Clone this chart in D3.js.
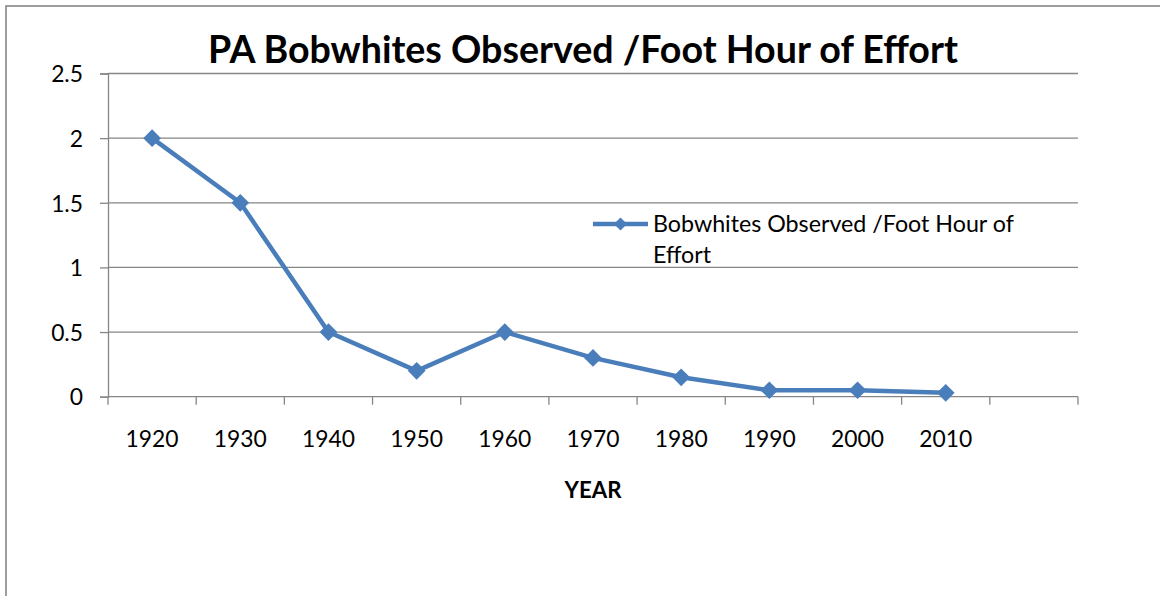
<!DOCTYPE html>
<html>
<head>
<meta charset="utf-8">
<script src="https://cdn.jsdelivr.net/npm/d3@7"></script>
<style>
  html, body { margin: 0; padding: 0; background: #fff; }
  svg { display: block; }
  text { font-family: Lato, "Open Sans", sans-serif; fill: #000; }
</style>
</head>
<body>
<svg id="chart" width="1160" height="596"></svg>
<script>
// Survey results: bobwhite quail seen per foot-hour of hunting effort, Pennsylvania
const years = ["1920", "1930", "1940", "1950", "1960", "1970", "1980", "1990", "2000", "2010", ""];
const observed = [2.0, 1.5, 0.5, 0.2, 0.5, 0.3, 0.15, 0.05, 0.05, 0.03];
const yTicks = [0, 0.5, 1, 1.5, 2, 2.5];
const titleText = "PA Bobwhites Observed /Foot Hour of Effort";
const xAxisTitle = "YEAR";
const legendLines = ["Bobwhites Observed /Foot Hour of", "Effort"];

const svg = d3.select("#chart");
const blue = "#4a7ebb";
const grey = "#868686";

// outer chart frame
svg.append("rect")
  .attr("x", 6).attr("y", 6).attr("width", 1170).attr("height", 610)
  .attr("fill", "none").attr("stroke", grey).attr("stroke-width", 1.6);

const plot = { left: 108, right: 1078, top: 73.5, bottom: 396.7 };

const x = d3.scaleBand().domain(years).range([plot.left, plot.right]).paddingInner(0).paddingOuter(0);
const y = d3.scaleLinear().domain([0, 2.5]).range([plot.bottom, plot.top]);

// fit helper: pick a font size so the text spans the wanted width
function fitText(sel, width) {
  const base = parseFloat(sel.attr("font-size"));
  const w = sel.node().getComputedTextLength();
  sel.attr("font-size", (base * width / w).toFixed(2));
}

// horizontal gridlines
svg.append("g")
  .selectAll("line")
  .data(yTicks.filter(d => d > 0))
  .join("line")
  .attr("x1", plot.left).attr("x2", plot.right)
  .attr("y1", d => y(d)).attr("y2", d => y(d))
  .attr("stroke", grey).attr("stroke-width", 1.3);

// y axis
const yAxis = svg.append("g")
  .attr("transform", `translate(${plot.left},0)`)
  .call(d3.axisLeft(y).tickValues(yTicks).tickSize(8).tickPadding(17)
    .tickFormat(d => d3.format("")(d)));
yAxis.select(".domain").attr("stroke", grey).attr("stroke-width", 1.3);
yAxis.selectAll(".tick line").attr("stroke", grey).attr("stroke-width", 1.3);
yAxis.selectAll(".tick text")
  .attr("font-size", 20).attr("font-family", "Lato").attr("fill", "#000")
  .attr("dy", "0.36em");

// x axis: ticks on category boundaries
const xAxis = svg.append("g")
  .attr("transform", `translate(0,${plot.bottom})`);
xAxis.append("line")
  .attr("x1", plot.left).attr("x2", plot.right)
  .attr("stroke", grey).attr("stroke-width", 1.3);
const boundaries = years.map(d => x(d)).concat([plot.right]);
xAxis.selectAll("line.tk")
  .data(boundaries)
  .join("line").attr("class", "tk")
  .attr("x1", d => d).attr("x2", d => d)
  .attr("y1", 0).attr("y2", 8)
  .attr("stroke", grey).attr("stroke-width", 1.3);
xAxis.selectAll("text")
  .data(years.filter(d => d))
  .join("text")
  .attr("x", d => x(d) + x.bandwidth() / 2)
  .attr("y", 50)
  .attr("text-anchor", "middle")
  .attr("font-size", 20)
  .text(d => d);

// size tick labels so a year spans ~53px
const probe = xAxis.select("text");
const w0 = probe.node().getComputedTextLength();
const tickSize = 20 * 53 / w0;
xAxis.selectAll("text").attr("font-size", tickSize);
yAxis.selectAll(".tick text").attr("font-size", tickSize);

// series line
const line = d3.line()
  .x((d, i) => x(years[i]) + x.bandwidth() / 2)
  .y(d => y(d));
svg.append("path")
  .datum(observed)
  .attr("d", line)
  .attr("fill", "none")
  .attr("stroke", blue)
  .attr("stroke-width", 4.5)
  .attr("stroke-linejoin", "round");

// diamond markers
const diamond = d3.symbol().type(d3.symbolDiamond2).size(200);
svg.append("g")
  .selectAll("path")
  .data(observed)
  .join("path")
  .attr("transform", (d, i) => `translate(${x(years[i]) + x.bandwidth() / 2},${y(d)})`)
  .attr("d", diamond)
  .attr("fill", blue);

// title
const title = svg.append("text")
  .attr("x", 583).attr("y", 63)
  .attr("text-anchor", "middle")
  .attr("font-size", 32).attr("font-weight", "bold")
  .text(titleText);
fitText(title, 750);

// x axis title
const xt = svg.append("text")
  .attr("x", 593).attr("y", 498)
  .attr("text-anchor", "middle")
  .attr("font-size", 18).attr("font-weight", "bold")
  .text(xAxisTitle);
fitText(xt, 57);

// legend
const lg = svg.append("g");
lg.append("line")
  .attr("x1", 593).attr("x2", 648)
  .attr("y1", 224).attr("y2", 224)
  .attr("stroke", blue).attr("stroke-width", 4.5);
lg.append("path")
  .attr("transform", "translate(620.5,224)")
  .attr("d", d3.symbol().type(d3.symbolDiamond2).size(110))
  .attr("fill", blue);
const lt = lg.append("text")
  .attr("x", 653).attr("y", 232)
  .attr("font-size", 20)
  .text(legendLines[0]);
fitText(lt, 361);
lg.append("text")
  .attr("x", 653).attr("y", 263)
  .attr("font-size", lt.attr("font-size"))
  .text(legendLines[1]);
</script>
</body>
</html>
